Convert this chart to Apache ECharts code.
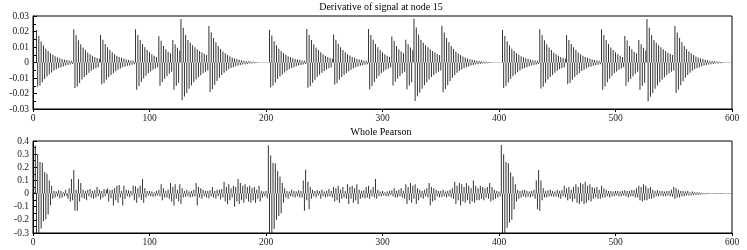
<!DOCTYPE html>
<html>
<head>
<meta charset="utf-8">
<script src="https://cdn.jsdelivr.net/npm/echarts@6/dist/echarts.min.js"></script>
<style>
html,body{margin:0;padding:0;background:#fff;}
#chart{width:747px;height:250px;}
</style>
</head>
<body>
<div id="chart"></div>
<script>
// ---- data ----
const topTitle = 'Derivative of signal at node 15';
const bottomTitle = 'Whole Pearson';
const xTicks = [0, 100, 200, 300, 400, 500, 600];
const topYTicks = [-0.03, -0.02, -0.01, 0, 0.01, 0.02, 0.03];
const bottomYTicks = [-0.3, -0.2, -0.1, 0, 0.1, 0.2, 0.3, 0.4];

// derivative of signal at node 15, samples 0..599
const derivative = [
0,0,0,
.021,-.0157,.0172,-.0149,.0136,-.0128,.011,-.0106,.0088,-.009,.0075,-.0078,.006,-.0064,.005,-.0052,.0041,-.0043,.0034,-.0036,.0028,-.003,.0023,-.0025,.0019,-.002,.0016,-.0016,.0013,-.0013,.0011,-.001,
.0215,-.0165,.0176,-.0155,.0144,-.0132,.0118,-.011,.0097,-.0093,.008,-.008,.0065,-.0066,.0054,-.0054,.0044,-.0044,.0036,-.0037,.0029,-.003,.0024,
.0178,-.014,.0146,-.0132,.012,-.0112,.0098,-.0094,.008,-.008,.0066,-.0068,.0054,-.0056,.0044,-.0046,.0036,-.0038,.003,-.0031,.0024,-.0026,.002,-.0021,.0016,-.0017,.0013,-.0014,.0011,-.0011,
.0215,-.0175,.0178,-.0154,.0145,-.0126,.012,-.0103,.0098,-.0085,.008,-.007,.0066,-.0057,.0054,-.0047,.0044,-.0038,.0036,-.0031,
.017,-.015,.0141,-.0125,.0106,-.0105,.0085,-.0088,.007,-.0072,.006,-.006,
.0145,-.0175,.0118,-.015,.0095,-.013,.0078,
.028,-.0244,.0225,-.022,.0178,-.0196,.0145,-.017,.0128,-.0148,.0112,-.0128,.0098,-.011,.0085,-.0095,.0074,-.0082,.0064,-.007,.0056,-.006,.0048,-.0052,
.0235,-.019,.0193,-.0172,.0158,-.0145,.013,-.012,.0106,-.0098,.0087,-.008,.0071,-.0066,.0059,-.0054,.0048,-.0044,.0039,-.0036,.0032,-.003,.0026,-.0024,.0022,-.002,.0018,-.0016,.0015,-.0013,.0012,-.0011,.001,-.0009,.0008,-.0007,.0007,-.0006,.0005,-.0005,.0004,-.0004,
.0003,-.0002,.0002,-.0002,.0002,-.0002,.0002,
-.0002,.0002,-.0002,
.0212,-.016,.0174,-.015,.0137,-.0129,.0111,-.0107,.0089,-.009,.0075,-.0077,.0061,-.0064,.005,-.0053,.0041,-.0043,.0034,-.0035,.0028,-.003,.0023,-.0024,.0019,-.002,.0016,-.0016,.0013,-.0013,.0011,-.001,
.0216,-.0163,.0177,-.0154,.0145,-.0131,.0118,-.0111,.0097,-.0092,.008,-.0079,.0066,-.0066,.0054,-.0055,.0044,-.0045,.0036,-.0037,.0029,-.003,.0024,
.018,-.0142,.0147,-.0133,.0121,-.0112,.0099,-.0094,.0081,-.0079,.0066,-.0067,.0054,-.0056,.0045,-.0046,.0036,-.0037,.003,-.0031,.0025,-.0026,.002,-.0021,.0016,-.0017,.0013,-.0014,.0011,-.0011,
.0216,-.0172,.0177,-.0152,.0146,-.0125,.0119,-.0104,.0098,-.0086,.0081,-.007,.0066,-.0058,.0054,-.0047,.0044,-.0039,.0036,-.0031,
.0168,-.0148,.014,-.0124,.0107,-.0104,.0086,-.0087,.0071,-.0071,.0059,-.006,
.0146,-.0172,.0117,-.0149,.0096,-.0128,.0079,
.0282,-.0248,.0226,-.0218,.0179,-.0195,.0146,-.0169,.0127,-.0147,.0111,-.0128,.0098,-.0109,.0086,-.0094,.0074,-.0081,.0064,-.007,.0055,-.006,.0048,-.0051,
.0237,-.0192,.0194,-.0171,.0158,-.0146,.0131,-.012,.0106,-.0099,.0087,-.0081,.0071,-.0066,.0058,-.0054,.0048,-.0045,.0039,-.0036,.0032,-.003,.0026,-.0025,.0021,-.002,.0018,-.0016,.0014,-.0013,.0012,-.0011,.001,-.0009,.0008,-.0007,.0007,-.0006,.0005,-.0005,.0004,-.0004,
.0003,-.0002,.0002,-.0002,.0002,-.0002,.0002,
-.0002,.0002,-.0002,
.021,-.0165,.0171,-.0151,.0137,-.0129,.011,-.0106,.0088,-.0089,.0074,-.0078,.006,-.0063,.005,-.0052,.0041,-.0042,.0034,-.0036,.0028,-.003,.0023,-.0024,.0019,-.002,.0015,-.0016,.0013,-.0013,.0011,-.001,
.0215,-.0168,.0176,-.0156,.0143,-.0133,.0117,-.011,.0096,-.0093,.008,-.008,.0065,-.0066,.0053,-.0054,.0044,-.0044,.0036,-.0036,.0029,-.003,.0024,
.0178,-.014,.0145,-.0131,.012,-.0111,.0098,-.0094,.008,-.008,.0065,-.0068,.0054,-.0055,.0044,-.0046,.0036,-.0038,.003,-.0031,.0024,-.0025,.002,-.0021,.0016,-.0017,.0013,-.0014,.0011,-.0011,
.0215,-.0175,.0178,-.0155,.0145,-.0127,.012,-.0104,.0097,-.0085,.008,-.007,.0066,-.0058,.0054,-.0047,.0044,-.0038,.0036,-.0031,
.0171,-.015,.0142,-.0125,.0106,-.0106,.0085,-.0088,.007,-.0073,.006,-.006,
.0145,-.0176,.0118,-.015,.0095,-.013,.0078,
.028,-.025,.0224,-.0221,.0178,-.0197,.0145,-.017,.0128,-.0148,.0112,-.0127,.0098,-.011,.0085,-.0095,.0074,-.0082,.0063,-.007,.0056,-.006,.0048,-.0052,
.0235,-.0196,.0193,-.0174,.0158,-.0146,.013,-.0121,.0106,-.0098,.0087,-.0081,.0071,-.0066,.0059,-.0054,.0048,-.0044,.0039,-.0036,.0032,-.003,.0026,-.0024,.0022,-.002,.0018,-.0016,.0015,-.0013,.0012,-.0011,.001,-.0009,.0008,-.0007,.0007,-.0006,.0005,-.0005,.0004,-.0004,
.0003,-.0002,.0002,-.0002,.0002,-.0002,.0002
];

// whole Pearson, samples 0..599
const pearson = [
-.035,.01,.366,-.31,.3,-.31,.24,-.265,.235,-.21,
.165,-.195,.15,-.16,.1,-.09,.06,-.04,.02,-.03,
.015,-.02,.025,-.035,.02,-.03,.01,-.02,.03,-.015,
-.04,.04,-.06,.11,-.05,.18,-.13,.03,-.13,.11,
-.06,.08,-.03,.03,-.04,.02,-.05,.03,-.02,.035,
-.03,.02,-.04,.025,-.03,.05,-.02,.03,-.045,.02,
-.03,.035,-.02,.03,.04,-.06,.025,-.035,.03,-.09,
.04,-.05,.06,-.07,.065,-.03,.02,-.09,.06,-.04,
.03,-.02,.025,-.03,.02,-.015,.06,-.05,.055,-.07,
.04,-.03,.06,-.05,.11,-.07,.04,-.03,.02,-.015,
.02,-.02,.015,-.025,.01,-.02,.02,-.015,.03,-.02,
.07,-.05,.04,-.03,.02,-.03,.03,-.04,.08,-.06,
.05,-.09,.07,-.04,.03,-.06,.07,-.08,.04,-.03,
.02,-.025,.03,-.02,.015,-.03,.02,-.025,.03,-.02,
.08,-.09,.05,-.03,.04,-.04,.03,-.02,.02,-.03,
.02,-.035,.025,-.02,.05,-.03,.02,-.04,.03,-.02,
.03,-.045,.035,-.03,.09,-.06,.05,-.08,.07,-.05,
.04,-.03,.06,-.1,.05,-.06,.11,-.08,.08,-.05,
.06,-.07,.07,-.04,.05,-.06,.06,-.07,.04,-.05,
.05,-.07,.03,-.04,.06,-.06,.02,-.03,.015,-.02,
.02,-.035,.367,-.31,.29,-.31,.235,-.27,.23,-.2,
.17,-.17,.13,-.15,.08,-.07,.04,-.03,.02,-.04,
.015,-.02,.03,-.025,.02,-.03,.015,-.02,.025,-.03,
.02,-.03,.1,-.13,.182,-.05,.09,-.12,.05,-.04,
.03,-.02,.02,-.03,.025,-.015,.02,-.04,.03,-.02,
.015,-.03,.02,-.025,.035,-.02,.02,-.03,.05,-.06,
.04,-.05,.06,-.07,.03,-.04,.05,-.03,.02,-.04,
.07,-.08,.05,-.04,.06,-.07,.04,-.05,.07,-.08,
.03,-.04,.02,-.03,.025,-.035,.05,-.03,.06,-.04,
.03,-.02,.05,-.03,.11,-.04,.03,-.02,.015,-.02,
.02,-.015,.01,-.02,.015,-.02,.02,-.01,.025,-.02,
.04,-.03,.02,-.03,.03,-.02,.04,-.03,.02,-.04,
.07,-.08,.05,-.05,.08,-.07,.06,-.04,.07,-.08,
.04,-.05,.03,-.03,.02,-.04,.03,-.02,.04,-.03,
.08,-.09,.05,-.06,.04,-.05,.03,-.02,.02,-.03,
.02,-.025,.03,-.02,.015,-.03,.02,-.02,.03,-.03,
.04,-.04,.09,-.08,.06,-.05,.08,-.09,.07,-.06,
.05,-.07,.08,-.05,.06,-.08,.04,-.06,.1,-.07,
.06,-.05,.04,-.05,.06,-.04,.05,-.05,.04,-.03,
.05,-.04,.08,-.06,.05,-.05,.03,-.04,.02,-.03,
.015,-.02,.37,-.31,.3,-.31,.24,-.26,.23,-.22,
.16,-.2,.13,-.12,.07,-.06,.03,-.04,.02,-.03,
.025,-.02,.03,-.03,.02,-.025,.015,-.03,.02,-.02,
.03,-.04,.1,-.12,.18,-.13,.1,-.05,.04,-.03,
.02,-.03,.025,-.02,.03,-.02,.02,-.025,.015,-.02,
.03,-.03,.02,-.04,.025,-.02,.06,-.03,.04,-.05,
.05,-.04,.03,-.06,.05,-.04,.07,-.07,.05,-.08,
.08,-.06,.07,-.08,.09,-.07,.06,-.05,.07,-.06,
.05,-.04,.04,-.03,.05,-.04,.03,-.04,.06,-.03,
.04,-.03,.03,-.02,.02,-.03,.02,-.02,.015,-.02,
.02,-.015,.02,-.02,.015,-.02,.02,-.015,.025,-.02,
.02,-.03,.02,-.02,.03,-.02,.025,-.03,.04,-.03,
.06,-.05,.05,-.06,.07,-.05,.06,-.05,.04,-.04,
.05,-.04,.03,-.03,.02,-.02,.025,-.02,.02,-.015,
.02,-.02,.015,-.02,.02,-.015,.02,-.02,.03,-.025,
.05,-.04,.04,-.03,.03,-.03,.02,-.02,.02,-.02,
.015,-.015,.02,-.015,.01,-.015,.015,-.01,.01,-.01,
.01,-.01,.008,-.008,.006,-.006,.005,-.005,.004,-.004,
.004,-.003,.003,-.003,.003,-.002,.002,-.002,.002,-.002,
.002,-.002,.002,-.002,.001,-.001,.001,-.001,.001,-.001
];

// ---- chart ----
const FONT = 'Liberation Serif';
const chart = echarts.init(document.getElementById('chart'), null, {renderer: 'canvas'});

function xAxisCfg(gi) {
  return {
    gridIndex: gi, type: 'value', min: xTicks[0], max: xTicks[xTicks.length - 1],
    interval: xTicks[1] - xTicks[0],
    axisLine: {show: true, onZero: false, lineStyle: {color: '#000', width: 1}},
    axisTick: {show: true, inside: false, length: 3, lineStyle: {color: '#000'}},
    axisLabel: {fontFamily: FONT, fontSize: 9.5, color: '#222', margin: 4},
    splitLine: {show: false}
  };
}
function yAxisCfg(gi, ticks) {
  return {
    gridIndex: gi, type: 'value', min: ticks[0], max: ticks[ticks.length - 1],
    interval: Math.round((ticks[1] - ticks[0]) * 1000) / 1000,
    axisLine: {show: true, lineStyle: {color: '#000', width: 1}},
    axisTick: {show: true, inside: true, length: 4, lineStyle: {color: '#000'}},
    minorTick: {show: true, splitNumber: 2, length: 3, lineStyle: {color: '#000'}},
    axisLabel: {fontFamily: FONT, fontSize: 9.5, color: '#222', margin: 4,
      formatter: v => String(Math.round(v * 1000) / 1000)},
    splitLine: {show: false}
  };
}

// stems: thin rectangles from 0 to the value, placed through the axes' scales
function stemRenderer(params, api) {
  const x = api.value(0), y = api.value(1);
  const cs = params.coordSys;
  const p0 = api.coord([x, 0]);
  const p1 = api.coord([x, y]);
  let top = Math.min(p0[1], p1[1]);
  let bot = Math.max(p0[1], p1[1]);
  top = Math.max(top, cs.y);
  bot = Math.min(bot, cs.y + cs.height);
  return {
    type: 'rect',
    shape: {x: p0[0] - 0.5, y: top, width: 1, height: Math.max(bot - top, 0.35)},
    style: {fill: '#333'}
  };
}

const option = {
  animation: false,
  backgroundColor: '#fff',
  grid: [
    {left: 33, right: 15, top: 16, height: 93, show: true, borderColor: '#000', borderWidth: 1, containLabel: false},
    {left: 33, right: 15, top: 141, height: 92, show: true, borderColor: '#000', borderWidth: 1, containLabel: false}
  ],
  graphic: [
    {type: 'text', x: 381, y: 2, style: {text: topTitle, font: '10px "' + FONT + '"', fill: '#000', textAlign: 'center'}},
    {type: 'text', x: 381, y: 127, style: {text: bottomTitle, font: '10px "' + FONT + '"', fill: '#000', textAlign: 'center'}}
  ],
  xAxis: [xAxisCfg(0), xAxisCfg(1)],
  yAxis: [yAxisCfg(0, topYTicks), yAxisCfg(1, bottomYTicks)],
  series: [
    {type: 'custom', xAxisIndex: 0, yAxisIndex: 0, renderItem: stemRenderer,
     encode: {x: 0, y: 1}, data: derivative.map((v, i) => [i, v])},
    {type: 'custom', xAxisIndex: 1, yAxisIndex: 1, renderItem: stemRenderer,
     encode: {x: 0, y: 1}, data: pearson.map((v, i) => [i, v])}
  ]
};
chart.setOption(option);
if (derivative.length !== 600 || pearson.length !== 600) {
  throw new Error('lengths ' + derivative.length + ' ' + pearson.length);
}
</script>
</body>
</html>
